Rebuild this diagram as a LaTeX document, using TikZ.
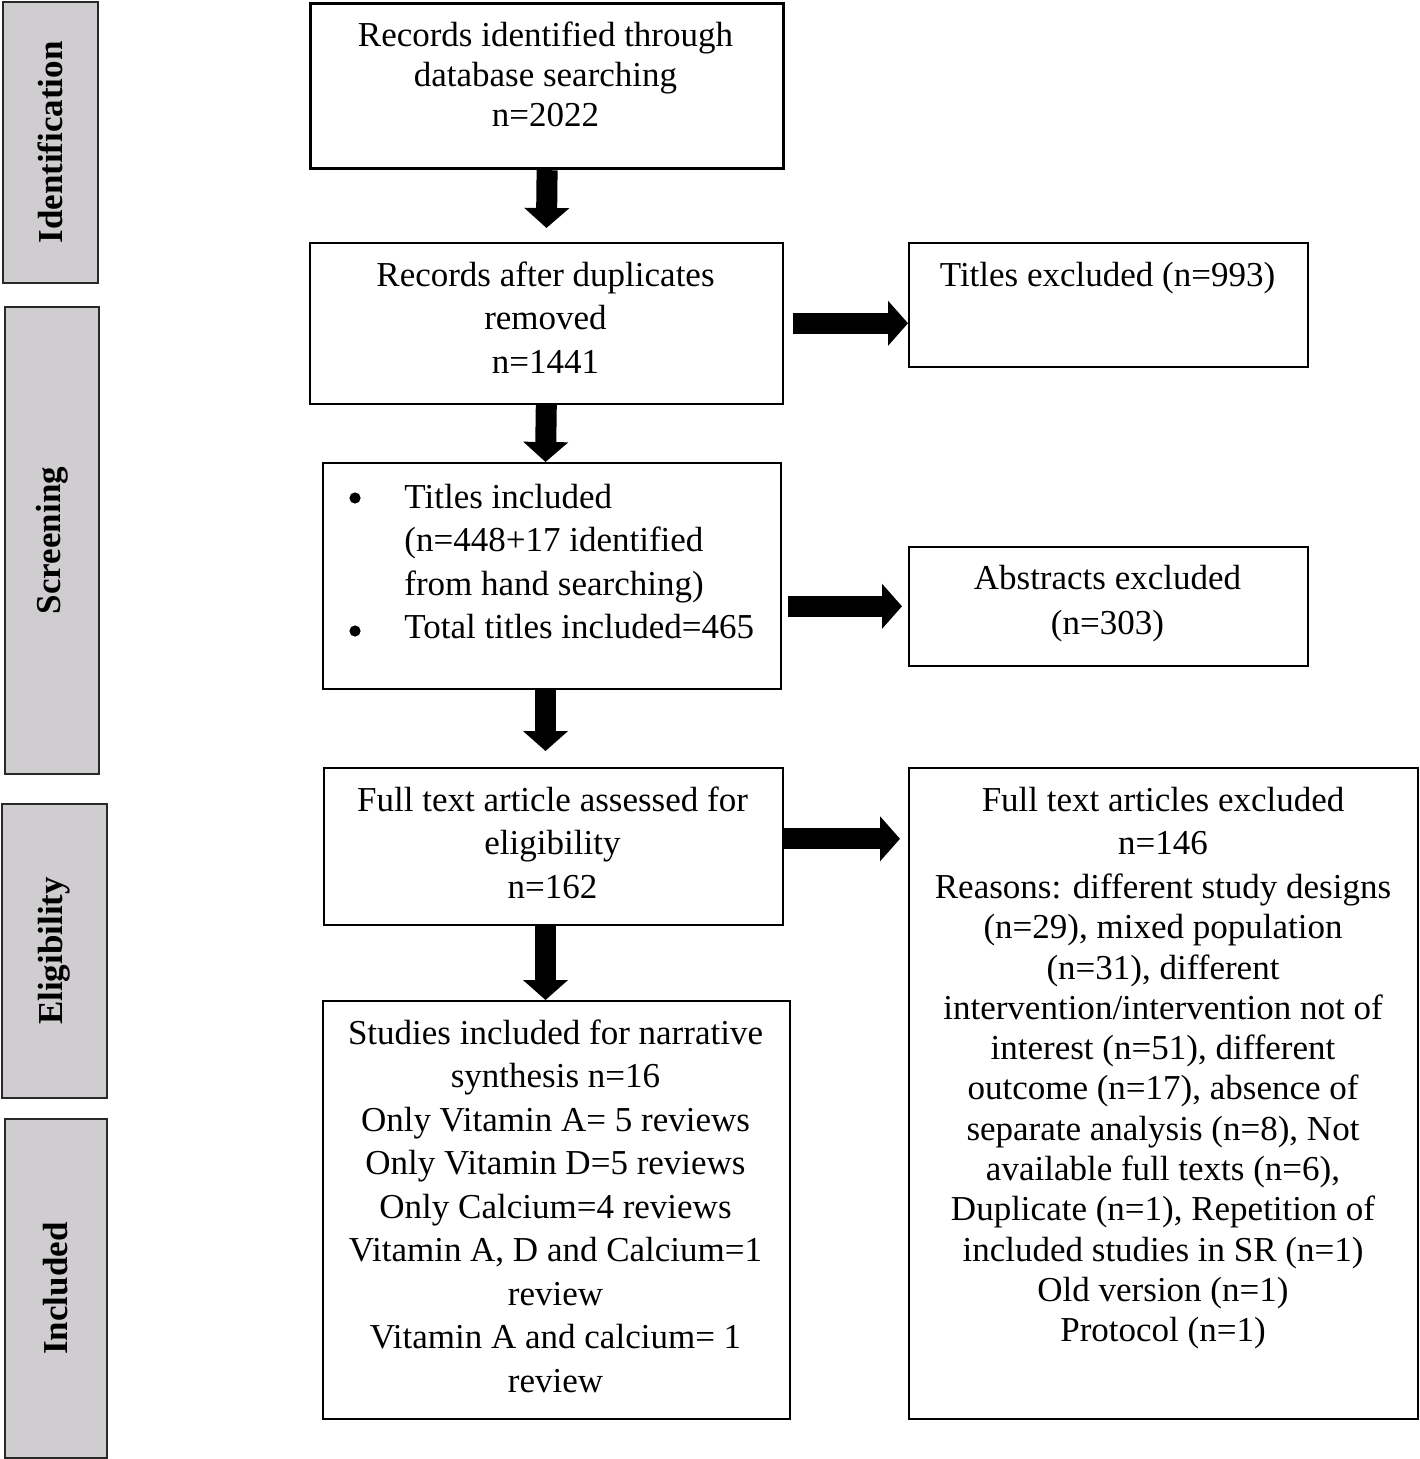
\documentclass[tikz,border=0pt]{standalone}
\usepackage{fontspec}
\setmainfont{Liberation Serif}
\usetikzlibrary{arrows.meta,calc}
\definecolor{sidegray}{RGB}{207,205,207}
\definecolor{sideline}{RGB}{40,40,40}
\begin{document}
\begin{tikzpicture}[x=0.5pt,y=-0.5pt,
  box/.style={draw=black,line width=0.8pt,inner sep=0pt,anchor=north west},
  sidebox/.style={draw=sideline,fill=sidegray,line width=1pt,inner sep=0pt,anchor=north west},
  sidelabel/.style={rotate=90,font=\fontsize{17.5}{20}\selectfont\bfseries},
  txt/.style={anchor=north,inner sep=0pt,align=center,font=\fontsize{17.5}{21.75}\selectfont},
  txtb/.style={anchor=north,inner sep=0pt,align=center,font=\fontsize{17.5}{20.15}\selectfont},
  bulletdot/.style={circle,fill=black,inner sep=0pt,minimum size=5.6pt},
  bigarrow/.style={line width=10.5pt,-{Triangle[width=22pt,length=10pt]}}
]
\useasboundingbox (0,0) rectangle (1419,1459);

% side phase boxes
\node[sidebox,minimum width=47.5pt,minimum height=140.5pt] (sid) at (2,1) {};
\node[sidebox,minimum width=47pt,minimum height=233.5pt] (sscr) at (4,306) {};
\node[sidebox,minimum width=52.5pt,minimum height=147pt] (seli) at (1,803) {};
\node[sidebox,minimum width=51pt,minimum height=169.5pt] (sinc) at (4,1118) {};
\node[sidelabel] (lid) at (sid.center) {Identification};
\node[sidelabel] (lscr) at (sscr.center) {Screening};
\node[sidelabel] (leli) at (seli.center) {Eligibility};
\node[sidelabel] (linc) at (sinc.center) {Included};

% main boxes
\node[box,line width=1.6pt,minimum width=236.5pt,minimum height=82.5pt] (b1) at (309,2) {};
\node[box,minimum width=236.5pt,minimum height=80.5pt] (b2) at (309,242) {};
\node[box,minimum width=229pt,minimum height=113pt] (b3) at (322,462) {};
\node[box,minimum width=229.5pt,minimum height=78.5pt] (b4) at (323,767) {};
\node[box,minimum width=233.5pt,minimum height=209pt] (b5) at (322,1000) {};
\node[box,minimum width=199.5pt,minimum height=62pt] (r1) at (908,242) {};
\node[box,minimum width=199.5pt,minimum height=59.5pt] (r2) at (908,546) {};
\node[box,minimum width=254.5pt,minimum height=325.5pt] (r3) at (908,767) {};

% texts
\node[txt,font=\fontsize{17.5}{20}\selectfont] (t1) at (545.5,18) {\strut Records identified through\\database searching\\n=2022};
\node[txt] (t2) at (545.5,255.5) {\strut Records after duplicates\\removed\\n=1441};
\node[txt,anchor=north west,align=left] (t3) at (404,477.5) {\strut Titles included\\(n=448+17 identified\\from hand searching)\\Total titles included=465};
\node[bulletdot] (bul1) at (355,498) {};
\node[bulletdot] (bul2) at (355,631) {};
\node[txt] (t4) at (552.5,780.5) {\strut Full text article assessed for\\eligibility\\n=162};
\node[txt] (t5) at (555.5,1013.5) {\strut Studies included for narrative\\synthesis n=16\\Only Vitamin A= 5 reviews\\Only Vitamin D=5 reviews\\Only Calcium=4 reviews\\Vitamin A, D and Calcium=1\\review\\Vitamin A and calcium= 1\\review};
\node[txt] (tr1) at (1107.5,255.5) {\strut Titles excluded (n=993)};
\node[txt,font=\fontsize{17.5}{22.5}\selectfont] (tr2) at (1107.5,558) {\strut Abstracts excluded\\(n=303)};
\node[txt] (tr3a) at (1163,780.5) {\strut Full text articles excluded\\n=146};
\node[txtb] (tr3b) at (1163,869.8) {\strut Reasons: different study designs\\(n=29), mixed population\\(n=31), different\\intervention/intervention not of\\interest (n=51), different\\outcome (n=17), absence of\\separate analysis (n=8), Not\\available full texts (n=6),\\Duplicate (n=1), Repetition of\\included studies in SR (n=1)\\Old version (n=1)\\Protocol (n=1)};

% arrows
\coordinate (ax) at (545.5,0);
\draw[bigarrow,shorten >=7pt] (b1.south) -- (b2.north);
\draw[bigarrow] (b2.south) -- (b3.north -| ax);
\draw[bigarrow,shorten >=8pt] (b3.south -| ax) -- (b4.north -| ax);
\draw[bigarrow] (b4.south -| ax) -- (b5.north -| ax);
\draw[bigarrow,shorten <=4.5pt] (b2.east) -- (b2.east -| r1.west);
\draw[bigarrow,shorten <=3pt,shorten >=3pt] (r2.west -| b3.east) -- (r2.west);
\draw[bigarrow,shorten >=4pt] ([yshift=3.75pt]b4.east) -- ([yshift=3.75pt]b4.east -| r3.west);
\end{tikzpicture}
\end{document}
